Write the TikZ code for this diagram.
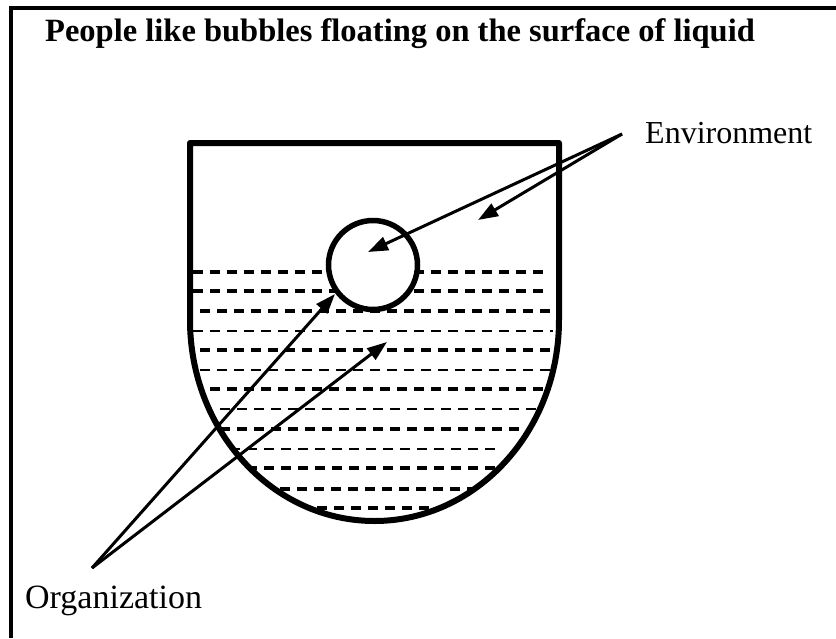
\documentclass[tikz,border=0pt]{standalone}
\usepackage{fontspec}
\setmainfont{Liberation Serif}
\usepackage{tikz}
\usetikzlibrary{arrows.meta,positioning}

\begin{document}
\begin{tikzpicture}[x=1pt,y=-1pt,
   wall/.style={line width=6pt,line join=round},
   lvl/.style={dash pattern=on 10pt off 7pt,line width=#1},
   a/.style={line width=3pt,-{Triangle[length=20pt,width=14pt]}},
   lbl/.style={anchor=base west,inner sep=0pt,font=\fontsize{32}{36}\selectfont}]
  \useasboundingbox (0,0) rectangle (836,638);
  % frame
  \draw[line width=4pt] (11,638) -- (11,8) -- (836,8);
  \node[anchor=base west,inner sep=0pt,font=\fontsize{32.5}{36}\selectfont\bfseries] (ttl) at (45,41)
       {People like bubbles floating on the surface of liquid};
  % liquid levels
  \foreach \y/\xa/\xb/\w in {272/193/547/3.4pt, 291/193/547/3.4pt, 311/200/555/3.4pt, 331/193/553/1.6pt,
       350/200/553/3.4pt, 370/200/553/1.6pt, 389/210/545/3.4pt, 409/220/540/1.6pt, 429/220/523/3.4pt,
       449/230/497/1.6pt, 468/247/500/3.4pt, 489/280/477/3.4pt, 508/317/430/3.4pt}
    \draw[lvl=\w] (\xa,\y) -- (\xb,\y);
  % vessel and bubble
  \draw[wall] (190,143) -- (559,143) -- (559,320)
       arc[start angle=0,end angle=180,x radius=184.5,y radius=201] -- cycle;
  \node[draw,circle,line width=5.5pt,fill=white,minimum size=89pt,inner sep=0pt] (bub) at (373,265) {};
  % labels
  \node[lbl] (env) at (645,143) {Environment};
  \node[lbl,font=\fontsize{34}{38}\selectfont] (org) at (25,608) {Organization};
  \coordinate (envT) at (622,134);
  \coordinate (orgT) at (92,568);
  \coordinate (inBub) at (368,252);
  \coordinate (inAir) at (478,220);
  \coordinate (atBub) at (335,294);
  \coordinate (inLiq) at (387,342);
  \draw[a] (envT) -- (inBub);
  \draw[a] (envT) -- (inAir);
  \draw[a] (orgT) -- (atBub);
  \draw[a] (orgT) -- (inLiq);
\end{tikzpicture}
\end{document}
